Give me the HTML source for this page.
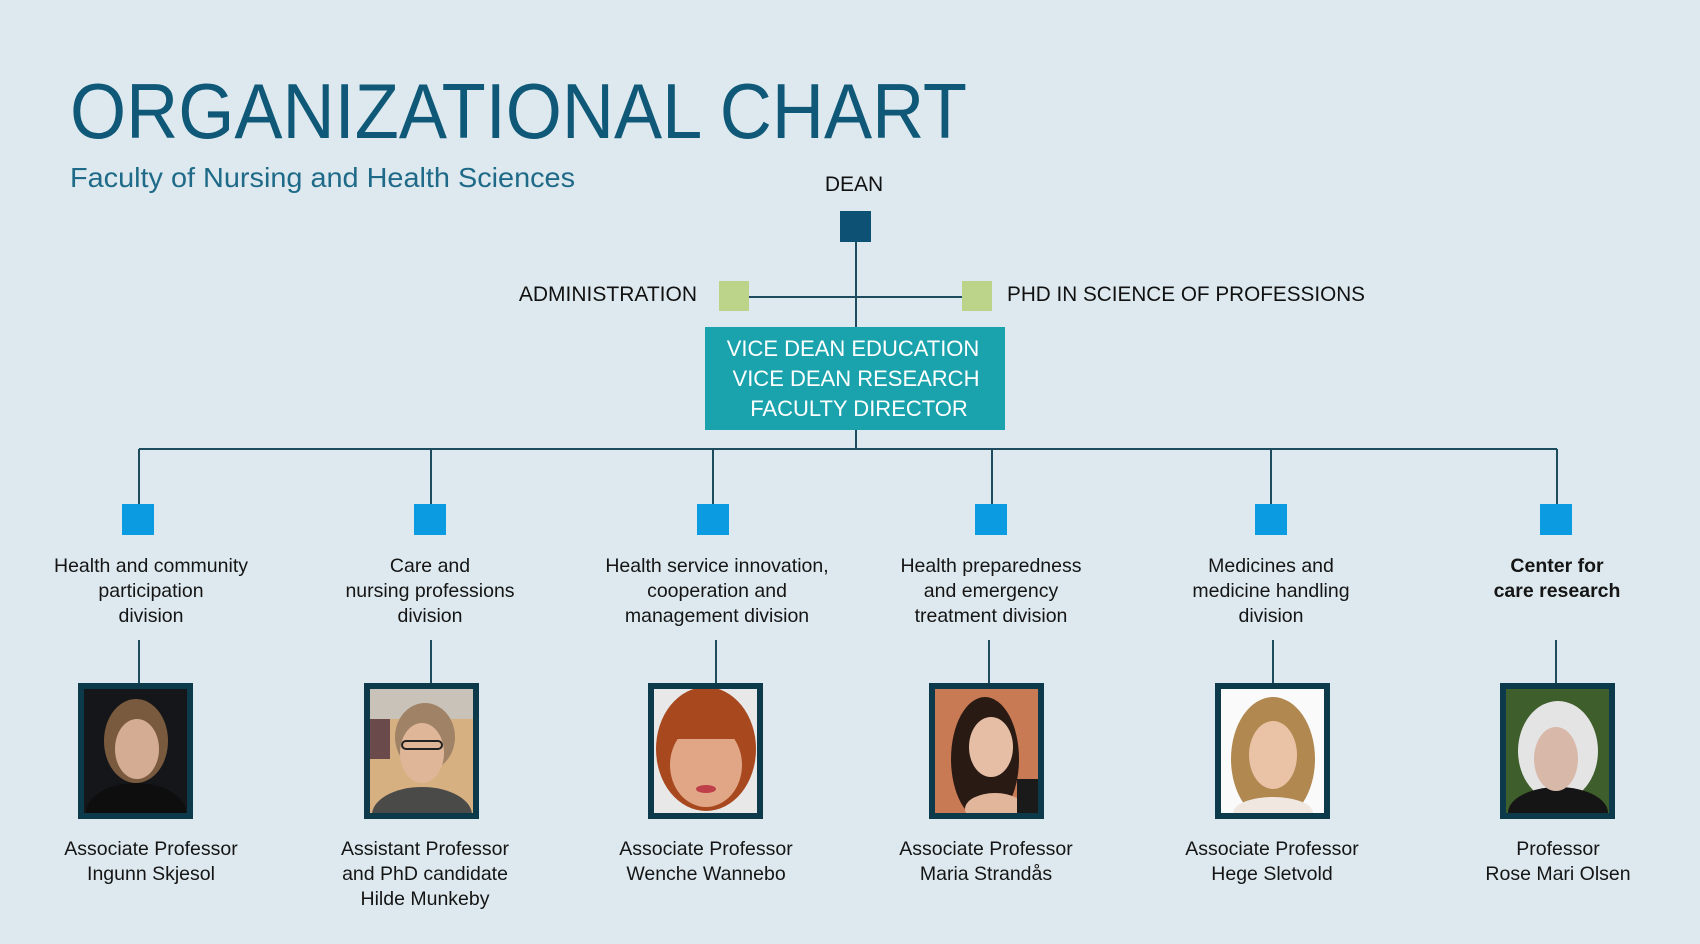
<!DOCTYPE html>
<html><head><meta charset="utf-8"><style>
html,body{margin:0;padding:0;background:#dde9ee;}
svg{display:block;}
text{font-family:"Liberation Sans",sans-serif;}
</style></head><body>
<svg width="1700" height="944" viewBox="0 0 1700 944" xmlns="http://www.w3.org/2000/svg">
<rect width="1700" height="944" fill="#dde9ee"/>
<text x="70" y="138" font-size="78" fill="#0f5878" textLength="897" lengthAdjust="spacingAndGlyphs">ORGANIZATIONAL CHART</text>
<text x="70" y="187" font-size="28" fill="#1f6a88" textLength="505" lengthAdjust="spacingAndGlyphs">Faculty of Nursing and Health Sciences</text>

<g stroke="#1e4c5e" stroke-width="2" fill="none">
<line x1="856" y1="242" x2="856" y2="327"/>
<line x1="749" y1="297" x2="962" y2="297"/>
<line x1="856" y1="430" x2="856" y2="449"/>
<line x1="139" y1="449" x2="1557" y2="449"/>
<line x1="139" y1="449" x2="139" y2="504"/>
<line x1="431" y1="449" x2="431" y2="504"/>
<line x1="713" y1="449" x2="713" y2="504"/>
<line x1="992" y1="449" x2="992" y2="504"/>
<line x1="1271" y1="449" x2="1271" y2="504"/>
<line x1="1557" y1="449" x2="1557" y2="504"/>
<line x1="139" y1="640" x2="139" y2="683"/>
<line x1="431" y1="640" x2="431" y2="683"/>
<line x1="716" y1="640" x2="716" y2="683"/>
<line x1="989" y1="640" x2="989" y2="683"/>
<line x1="1273" y1="640" x2="1273" y2="683"/>
<line x1="1556" y1="640" x2="1556" y2="683"/>
</g>

<text x="854" y="191" font-size="21" fill="#111" text-anchor="middle">DEAN</text>
<rect x="840" y="211" width="31" height="31" fill="#0d5275"/>
<rect x="719" y="281" width="30" height="30" fill="#bcd48a"/>
<rect x="962" y="281" width="30" height="30" fill="#bcd48a"/>
<text x="697" y="301" font-size="21" fill="#111" text-anchor="end">ADMINISTRATION</text>
<text x="1007" y="301" font-size="21" fill="#111" textLength="358" lengthAdjust="spacingAndGlyphs">PHD IN SCIENCE OF PROFESSIONS</text>

<rect x="705" y="327" width="300" height="103" fill="#1aa3ad"/>
<g font-size="22" fill="#fff" text-anchor="middle">
<text x="853" y="356">VICE DEAN EDUCATION</text>
<text x="856" y="386">VICE DEAN RESEARCH</text>
<text x="859" y="416">FACULTY DIRECTOR</text>
</g>

<g fill="#0a9be0">
<rect x="122" y="504" width="32" height="31"/>
<rect x="414" y="504" width="32" height="31"/>
<rect x="697" y="504" width="32" height="31"/>
<rect x="975" y="504" width="32" height="31"/>
<rect x="1255" y="504" width="32" height="31"/>
<rect x="1540" y="504" width="32" height="31"/>
</g>

<g font-size="19.5" fill="#151515" text-anchor="middle">
<text x="151" y="572">Health and community</text>
<text x="151" y="597">participation</text>
<text x="151" y="622">division</text>
<text x="430" y="572">Care and</text>
<text x="430" y="597">nursing professions</text>
<text x="430" y="622">division</text>
<text x="717" y="572">Health service innovation,</text>
<text x="717" y="597">cooperation and</text>
<text x="717" y="622">management division</text>
<text x="991" y="572">Health preparedness</text>
<text x="991" y="597">and emergency</text>
<text x="991" y="622">treatment division</text>
<text x="1271" y="572">Medicines and</text>
<text x="1271" y="597">medicine handling</text>
<text x="1271" y="622">division</text>
<text x="1557" y="572" font-weight="bold">Center for</text>
<text x="1557" y="597" font-weight="bold">care research</text>

<text x="151" y="855">Associate Professor</text>
<text x="151" y="880">Ingunn Skjesol</text>
<text x="425" y="855">Assistant Professor</text>
<text x="425" y="880">and PhD candidate</text>
<text x="425" y="905">Hilde Munkeby</text>
<text x="706" y="855">Associate Professor</text>
<text x="706" y="880">Wenche Wannebo</text>
<text x="986" y="855">Associate Professor</text>
<text x="986" y="880">Maria Strandås</text>
<text x="1272" y="855">Associate Professor</text>
<text x="1272" y="880">Hege Sletvold</text>
<text x="1558" y="855">Professor</text>
<text x="1558" y="880">Rose Mari Olsen</text>
</g>

<!-- photos -->
<g>
<rect x="78" y="683" width="115" height="136" fill="#0c3a4a"/>
<svg x="84" y="689" width="103" height="124" viewBox="0 0 103 124">
<rect width="103" height="124" fill="#15161a"/>
<ellipse cx="52" cy="52" rx="32" ry="42" fill="#7a5a3e"/>
<ellipse cx="52" cy="124" rx="50" ry="30" fill="#0e0e0e"/>
<ellipse cx="53" cy="60" rx="22" ry="30" fill="#d4ac94"/>
</svg>
</g>
<g>
<rect x="364" y="683" width="115" height="136" fill="#0c3a4a"/>
<svg x="370" y="689" width="103" height="124" viewBox="0 0 103 124">
<rect width="103" height="124" fill="#d6b080"/>
<rect x="0" y="0" width="103" height="30" fill="#c8c2b8"/>
<rect x="0" y="30" width="20" height="40" fill="#6a4a4a"/>
<ellipse cx="55" cy="48" rx="30" ry="34" fill="#a08266"/>
<ellipse cx="52" cy="126" rx="50" ry="28" fill="#4a4a48"/>
<ellipse cx="52" cy="64" rx="22" ry="30" fill="#e0b698"/>
<rect x="32" y="52" width="40" height="8" rx="4" fill="none" stroke="#222" stroke-width="2"/>
</svg>
</g>
<g>
<rect x="648" y="683" width="115" height="136" fill="#0c3a4a"/>
<svg x="654" y="689" width="103" height="124" viewBox="0 0 103 124">
<rect width="103" height="124" fill="#e8e8e8"/>
<ellipse cx="52" cy="60" rx="50" ry="62" fill="#a8481e"/>
<ellipse cx="52" cy="76" rx="36" ry="42" fill="#e0a686"/>
<rect x="18" y="20" width="68" height="30" fill="#a8481e"/>
<ellipse cx="52" cy="100" rx="10" ry="4" fill="#c0404a"/>
</svg>
</g>
<g>
<rect x="929" y="683" width="115" height="136" fill="#0c3a4a"/>
<svg x="935" y="689" width="103" height="124" viewBox="0 0 103 124">
<rect width="103" height="124" fill="#c87a55"/>
<ellipse cx="50" cy="70" rx="34" ry="62" fill="#2a1a14"/>
<ellipse cx="56" cy="58" rx="22" ry="30" fill="#e6bea6"/>
<ellipse cx="60" cy="120" rx="30" ry="16" fill="#e2b69a"/>
<rect x="82" y="90" width="21" height="34" fill="#1a1a1a"/>
</svg>
</g>
<g>
<rect x="1215" y="683" width="115" height="136" fill="#0c3a4a"/>
<svg x="1221" y="689" width="103" height="124" viewBox="0 0 103 124">
<rect width="103" height="124" fill="#fafafa"/>
<ellipse cx="52" cy="70" rx="42" ry="62" fill="#b08850"/>
<ellipse cx="52" cy="124" rx="40" ry="16" fill="#f0e8e0"/>
<ellipse cx="52" cy="66" rx="24" ry="34" fill="#eac2a6"/>
</svg>
</g>
<g>
<rect x="1500" y="683" width="115" height="136" fill="#0c3a4a"/>
<svg x="1506" y="689" width="103" height="124" viewBox="0 0 103 124">
<rect width="103" height="124" fill="#3e5e2c"/>
<ellipse cx="52" cy="62" rx="40" ry="50" fill="#e4e4e4"/>
<ellipse cx="52" cy="124" rx="50" ry="26" fill="#151515"/>
<ellipse cx="50" cy="70" rx="22" ry="32" fill="#d8b8a8"/>
</svg>
</g>
</svg>
</body></html>
